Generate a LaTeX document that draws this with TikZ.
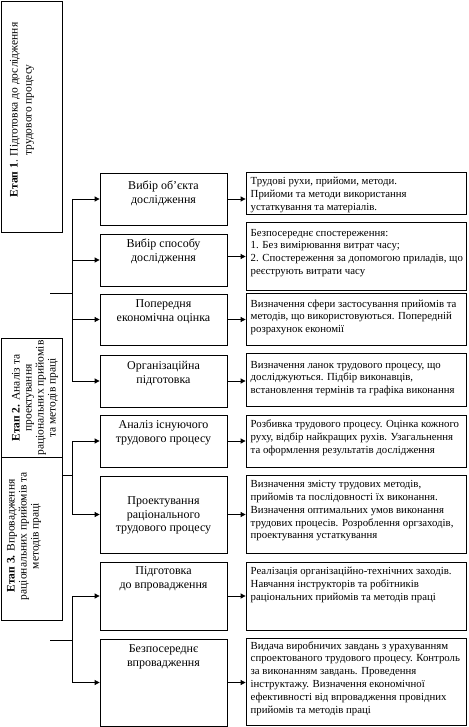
\documentclass[tikz,border=0pt]{standalone}
\usepackage{fontspec}
\setmainfont{Liberation Serif}
\usetikzlibrary{arrows.meta,fit}
\tikzset{
  bx/.style={draw, line width=0.8pt, inner sep=0pt, fill=white},
  ln/.style={line width=0.8pt},
  arr/.style={line width=0.8pt, -{Triangle[length=5pt,width=5pt]}},
  mtxt/.style={align=center, inner sep=0pt, anchor=north, font=\fontsize{12}{13.5}\selectfont},
  rtxt/.style={align=left, inner sep=0pt, anchor=north west, font=\fontsize{10.8}{12.8}\selectfont},
  stxt/.style={align=center, inner sep=0pt, rotate=90, font=\fontsize{11.5}{12}\selectfont},
}
\begin{document}
\begin{tikzpicture}[x=1pt,y=-1pt]
\fill[white] (0,0) rectangle (468,727);
\useasboundingbox (0,0) rectangle (468,727);

% stage boxes
\node[bx, fit={(1,1) (62,232)}] (e1) {};
\node[stxt, font=\fontsize{11.5}{14}\selectfont] (e1t) at (22,110) {\textbf{Етап 1}. Підготовка до дослідження\\трудового процесу};
\node[bx, fit={(1,338) (62,457)}] (e2) {};
\node[stxt] (e2t) at (35,398) {\textbf{Етап 2.} Аналіз та\\проектування\\раціональних прийомів\\та методів праці};
\node[bx, fit={(1,457) (62,620)}] (e3) {};
\node[stxt] (e3t) at (24,536) {\textbf{Етап 3.} Впровадження\\раціональних прийомів та\\методів праці};

% middle boxes
\node[bx, fit={(100,173) (227,225)}] (m1) {};
\node[bx, fit={(100,234) (227,286)}] (m2) {};
\node[bx, fit={(100,294) (227,345)}] (m3) {};
\node[bx, fit={(100,355) (227,407)}] (m4) {};
\node[bx, fit={(100,415) (227,467)}] (m5) {};
\node[bx, fit={(100,476) (227,553)}] (m6) {};
\node[bx, fit={(100,562) (227,630)}] (m7) {};
\node[bx, fit={(100,639) (227,726)}] (m8) {};

\node[mtxt] (m1t) at (163.5,180) {\strut Вибір об'єкта\\дослідження};
\node[mtxt] (m2t) at (163.5,238) {\strut Вибір способу\\дослідження};
\node[mtxt] (m3t) at (163.5,298) {\strut Попередня\\економічна оцінка};
\node[mtxt] (m4t) at (163.5,360) {\strut Організаційна\\підготовка};
\node[mtxt] (m5t) at (163.5,419) {\strut Аналіз існуючого\\трудового процесу};
\node[mtxt] (m6t) at (163.5,495) {\strut Проектування\\раціонального\\трудового процесу};
\node[mtxt] (m7t) at (163.5,565) {\strut Підготовка\\до впровадження};
\node[mtxt] (m8t) at (163.5,643) {\strut Безпосереднє\\впровадження};

% right boxes
\node[bx, fit={(246,172) (466,214)}] (r1) {};
\node[bx, fit={(246,222) (466,290)}] (r2) {};
\node[bx, fit={(246,293) (466,345)}] (r3) {};
\node[bx, fit={(246,353) (466,406)}] (r4) {};
\node[bx, fit={(246,415) (466,467)}] (r5) {};
\node[bx, fit={(246,475) (466,553)}] (r6) {};
\node[bx, fit={(246,562) (466,630)}] (r7) {};
\node[bx, fit={(246,638) (466,725)}] (r8) {};

\node[rtxt] (r1t) at (250.5,175.5) {\strut Трудові рухи, прийоми, методи.\\Прийоми та методи використання\\устаткування та матеріалів.};
\node[rtxt] (r2t) at (250.5,227) {\strut Безпосереднє спостереження:\\1. Без вимірювання витрат часу;\\2. Спостереження за допомогою приладів, що\\реєструють витрати часу};
\node[rtxt] (r3t) at (250.5,298) {\strut Визначення сфери застосування прийомів та\\методів, що використовуються. Попередній\\розрахунок економії};
\node[rtxt] (r4t) at (250.5,359) {\strut Визначення ланок трудового процесу, що\\досліджуються. Підбір виконавців,\\встановлення термінів та графіка виконання};
\node[rtxt] (r5t) at (250.5,418.5) {\strut Розбивка трудового процесу. Оцінка кожного\\руху, відбір найкращих рухів. Узагальнення\\та оформлення результатів дослідження};
\node[rtxt] (r6t) at (250.5,478.5) {\strut Визначення змісту трудових методів,\\прийомів та послідовності їх виконання.\\Визначення оптимальних умов виконання\\трудових процесів. Розроблення оргзаходів,\\проектування устаткування};
\node[rtxt] (r7t) at (250.5,565.5) {\strut Реалізація організаційно-технічних заходів.\\Навчання інструкторів та робітників\\раціональних прийомів та методів праці};
\node[rtxt] (r8t) at (250.5,640) {\strut Видача виробничих завдань з урахуванням\\спроектованого трудового процесу. Контроль\\за виконанням завдань. Проведення\\інструктажу. Визначення економічної\\ефективності від впровадження провідних\\прийомів та методів праці};

% spines and hubs
\coordinate (s1a) at (72,199);
\coordinate (s1b) at (72,381);
\coordinate (h1) at (50,293);
\draw[ln] (s1a) -- (s1b);
\draw[ln] (h1) -- (h1 -| s1a);
\draw[arr] (s1a) -- (m1.west);
\draw[arr] (s1a |- m2.west) -- (m2.west);
\draw[arr] (s1a |- m3.west) -- (m3.west);
\draw[arr] (s1b) -- (m4.west);

\coordinate (s2a) at (72,441);
\coordinate (s2b) at (72,514.5);
\draw[ln] (s2a) -- (s2b);
\draw[ln] (e3.east |- 0,475) -- (s2a |- 0,475);
\draw[arr] (s2a) -- (m5.west);
\draw[arr] (s2b) -- (m6.west);

\coordinate (s3a) at (72,596);
\coordinate (s3b) at (72,682.5);
\coordinate (h3) at (50,640);
\draw[ln] (s3a) -- (s3b);
\draw[ln] (h3) -- (h3 -| s3a);
\draw[arr] (s3a) -- (m7.west);
\draw[arr] (s3b) -- (m8.west);

% middle to right
\draw[arr] (m1.east) -- (m1.east -| r1.west);
\draw[arr] ([yshift=3.5pt]m2.east) -- ([yshift=3.5pt]m2.east -| r2.west);
\draw[arr] (m3.east) -- (m3.east -| r3.west);
\draw[arr] (m4.east) -- (m4.east -| r4.west);
\draw[arr] (m5.east) -- (m5.east -| r5.west);
\draw[arr] (m6.east) -- (m6.east -| r6.west);
\draw[arr] (m7.east) -- (m7.east -| r7.west);
\draw[arr] (m8.east) -- (m8.east -| r8.west);
\end{tikzpicture}
\end{document}
